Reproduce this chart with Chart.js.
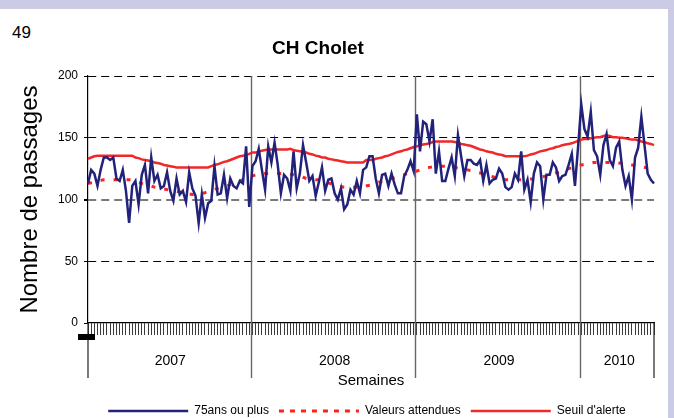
<!DOCTYPE html>
<html>
<head>
<meta charset="utf-8">
<script src="https://cdn.jsdelivr.net/npm/chart.js@4.4.0/dist/chart.umd.min.js"></script>
<style>
html,body{margin:0;padding:0;}
body{width:674px;height:418px;background:#cbcbe6;position:relative;overflow:hidden;font-family:"Liberation Sans",Arial,sans-serif;}
#paper{position:absolute;left:0;top:9px;width:668px;height:409px;background:#fff;}
#num{position:absolute;left:12px;top:24px;font-size:17px;line-height:17px;color:#000;}
#wrap{position:absolute;left:0;top:0;width:674px;height:418px;}
</style>
</head>
<body>
<div id="paper"></div>
<div id="num">49</div>
<div id="wrap"><canvas id="c" width="674" height="418" style="width:674px;height:418px"></canvas></div>
<script>
// ---- data ----
const yearLabels = ['2007', '2008', '2009', '2010'];
const weeksPerYear = [52, 52, 52, 24];

// 75 ans ou plus (weekly counts)
const passages75 = [
  // 2007
  113,124,121,111,124,134,134,132,134,117,115,124,107,81,111,115,96,120,128,105,134,115,120,109,111,122,
  107,99,117,104,107,98,122,109,103,81,104,85,97,99,127,104,105,120,101,117,111,109,115,113,143,94,
  // 2008
  127,131,141,124,108,143,130,146,128,105,120,117,107,139,109,121,144,130,115,119,103,114,126,107,116,117,
  105,100,109,92,96,108,104,115,105,124,126,135,135,117,105,120,121,111,121,112,105,105,119,124,131,123,
  // 2009
  169,139,163,161,147,165,121,139,115,115,125,134,119,152,135,119,132,132,129,128,132,115,128,113,116,117,
  125,121,110,108,110,121,116,139,108,116,98,121,130,127,100,120,120,130,126,115,119,120,128,137,111,143,
  // 2010
  177,157,151,171,140,135,120,144,153,132,127,142,147,124,111,119,100,134,142,167,144,121,116,113
];

// Valeurs attendues
const valeursAttendues = [
  113,113.5,114,115,115.5,116,116,116,116,116,
  116,116,116,116,115.5,115,114,113,112.5,112,
  111,110,109.5,109,108.5,108,107.5,107,106.5,106,
  105.5,105,104.5,104,104,104.5,105,105.5,106.5,107,
  108,109,110,110.5,111,112,113,114,115,116,
  117,118,119,120,120,120.5,121,121,121,121,
  121,121,121,121,120.5,120,119.5,119,118,117,
  116.5,116.5,116,116,115,114.5,113.5,112.5,112,111,
  110.5,110,110,110,110,110,110,110,111,111.5,
  112,113,114,114.5,115,116,117,118,118.5,119.5,
  120,121,121.5,122.5,123,124,125,125.5,126,126.5,
  127,127,127,127,127,126.5,126,125.5,125,124.5,
  124,123.5,123,122,121.5,120.5,120,119,118.5,117.5,
  117,116.5,116,116,116,116,116,116,116,116,
  116.5,116.5,117,117.5,118.5,119,120,120.5,121.5,122,
  123,124,125,125.5,127,127.5,128,128.5,129,129.5,
  130,130,130,130,130,130,130,130,129.5,129.5,
  129,128.5,128,127.5,127,126.5,126,125.5,125,124.5
];

// Seuil d'alerte
const seuilAlerte = [
  133,134,135,135.5,135.5,135.5,135.5,135.5,135.5,135.5,
  135.5,135.5,135.5,135.5,135.5,134,133.5,132.5,132,131.5,
  131,130,129.5,129,128,127.5,127,126.5,126,126,
  126,126,126,126,126,126,126,126,126,127,
  128,128.5,129.5,130.5,131,132,133,134,135,135.5,
  136,137,138,138,139,139.5,140,140.5,140.5,140.5,
  140.5,140.5,140.5,140.5,141,140,139.5,139,138.5,138,
  137,136.5,135.5,135,134,134,133,132.5,132,131.5,
  131,130.5,130,130,130,130,130,130,132,132,
  132,133,133.5,134,135,135.5,136.5,137.5,138.5,139,
  140,140.5,141.5,142.5,143,144,144.5,145,145.5,146.5,
  147,147,147,147,147,147,146.5,146,145,144.5,
  144,143.5,142.5,141.5,140.5,140,139,138.5,138,137,
  136.5,136,135,135,135,135,135,135,135,135.5,
  136.5,137,138,139,139.5,140,141,141.5,142.5,143,
  144,144.5,145,145.5,146.5,147.5,148.5,149,149,149.5,
  150,150.5,150.5,151.5,152,151.5,150.5,150.5,150,150,
  149.5,149,148.5,148.5,148,147,146.5,145.5,145,144
];

const yTicks = [0, 50, 100, 150, 200];

// ---- categories built from the year lists ----
const categories = [];
const yearStarts = [];
const yearMid = {};
let k = 0;
yearLabels.forEach((y, i) => {
  yearStarts.push(k);
  for (let w = 1; w <= weeksPerYear[i]; w++) categories.push(y + '-S' + String(w).padStart(2, '0'));
  yearMid[k + Math.floor(weeksPerYear[i] / 2)] = y;
  k += weeksPerYear[i];
});

const FONT = '"Liberation Sans", Arial, sans-serif';

const decor = {
  id: 'decor',
  afterLayout(chart) {
    if (chart.titleBlock) { chart.titleBlock.left -= 9; chart.titleBlock.right -= 9; }
    if (chart.legend) { chart.legend.left += 40; chart.legend.right += 40; }
  },
  beforeDatasetsDraw(chart) {
    const {ctx, chartArea, scales: {x}} = chart;
    const ext = chartArea.bottom + 55;
    ctx.save();
    ctx.lineWidth = 1.4;
    ctx.strokeStyle = '#666';
    yearStarts.slice(1).forEach(s => {
      const px = Math.round((x.getPixelForValue(s - 1) + x.getPixelForValue(s)) / 2) + 0.5;
      ctx.beginPath(); ctx.moveTo(px, chartArea.top); ctx.lineTo(px, ext); ctx.stroke();
    });
    ctx.strokeStyle = '#222';
    ctx.lineWidth = 1.2;
    [chartArea.left, chartArea.right].forEach(px => {
      ctx.beginPath(); ctx.moveTo(px, chartArea.bottom); ctx.lineTo(px, ext); ctx.stroke();
    });
    ctx.fillStyle = '#000';
    ctx.fillRect(chartArea.left - 10, chartArea.bottom + 11, 17, 6);
    ctx.restore();
  }
};

new Chart(document.getElementById('c'), {
  type: 'line',
  data: {
    labels: categories,
    datasets: [
      { label: '75ans ou plus', data: passages75, borderColor: '#22227a', backgroundColor: '#22227a',
        borderWidth: 2.5, pointRadius: 0, tension: 0, fill: false },
      { label: 'Valeurs attendues', data: valeursAttendues, borderColor: '#ff2020', backgroundColor: '#ff2020',
        borderWidth: 3, borderDash: [4, 9], pointRadius: 0, tension: 0, fill: false },
      { label: "Seuil d'alerte", data: seuilAlerte, borderColor: '#f02828', backgroundColor: '#f02828',
        borderWidth: 2.5, pointRadius: 0, tension: 0, fill: false }
    ]
  },
  options: {
    responsive: false,
    devicePixelRatio: 1,
    animation: false,
    events: [],
    layout: { padding: { left: 0, right: 20, top: 0, bottom: 0 } },
    plugins: {
      tooltip: { enabled: false },
      title: {
        display: true, text: 'CH Cholet', color: '#000',
        font: { family: FONT, size: 19, weight: 'bold' },
        padding: { top: 37, bottom: 16.2 }
      },
      legend: {
        display: true, position: 'bottom', maxHeight: 23,
        labels: {
          usePointStyle: true, pointStyle: 'line', pointStyleWidth: 80, boxWidth: 80, boxHeight: 12,
          padding: 10, color: '#000',
          font: { family: FONT, size: 12 },
          generateLabels: chart => {
            const items = Chart.defaults.plugins.legend.labels.generateLabels(chart);
            items.forEach(it => {
              const ds = chart.data.datasets[it.datasetIndex];
              it.lineDash = ds.borderDash ? [5, 6] : [];
              it.lineWidth = ds.borderWidth;
              it.strokeStyle = ds.borderColor;
              it.fillStyle = ds.borderColor;
            });
            return items;
          }
        }
      }
    },
    scales: {
      x: {
        type: 'category',
        offset: false,
        afterFit: s => { s.height = 72; },
        grid: { display: true, drawOnChartArea: false, drawTicks: true, tickLength: 12, tickColor: '#3a3a3a', tickWidth: 1 },
        border: { display: true, color: '#000', width: 1.2 },
        ticks: {
          autoSkip: false, maxRotation: 0, minRotation: 0, padding: 17.6, color: '#000',
          font: { family: FONT, size: 14 },
          callback: (v, i) => yearMid[i] || ''
        },
        title: { display: true, text: 'Semaines', color: '#000',
          font: { family: FONT, size: 15 },
          padding: { top: 0, bottom: 5.6 } }
      },
      y: {
        min: yTicks[0], max: yTicks[yTicks.length - 1],
        afterFit: s => { s.width = 88; },
        afterBuildTicks: s => { s.ticks = yTicks.map(v => ({ value: v })); },
        grid: {
          drawOnChartArea: true, tickLength: 4, tickColor: '#000',
          color: c => c.tick.value === 100 ? '#7a7a7a' : (c.tick.value === 0 ? 'rgba(0,0,0,0)' : '#000'),
          lineWidth: c => c.tick.value === 100 ? 2 : 1
        },
        border: { display: true, color: '#000', width: 1.2, dash: [8, 5] },
        ticks: { padding: 6, color: '#000', font: { family: FONT, size: 12 } },
        title: { display: true, text: 'Nombre de passages', color: '#000',
          font: { family: FONT, size: 24 },
          padding: { top: 15.6, bottom: 0 } }
      }
    }
  },
  plugins: [decor]
});
</script>
</body>
</html>
